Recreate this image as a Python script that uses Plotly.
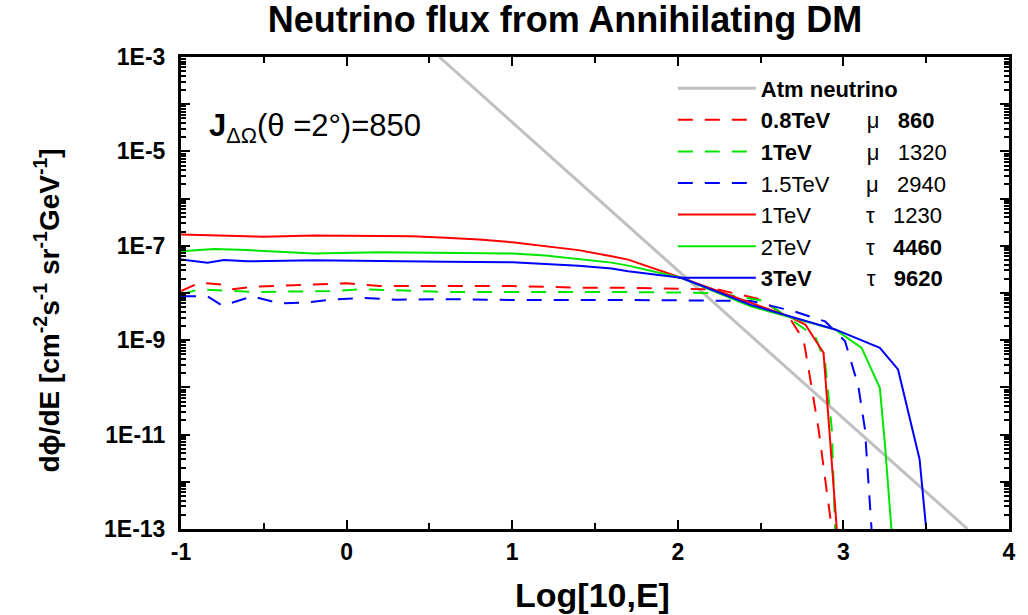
import plotly.graph_objects as go

# ---------------- data (x = log10(E/GeV), y = dPhi/dE) ----------------
atm_x = [0.56, 1.0, 2.0, 3.0, 3.75]
atm_y = [1e-3, 4.2e-5, 3.0e-8, 2.2e-11, 1e-13]

mu08_x = [-1.0, -0.89, -0.75, -0.69, -0.57, 0.0, 0.2, 0.6, 1.0, 1.4, 1.68, 2.24, 2.50, 2.68, 2.76, 2.80, 2.85, 2.93]
mu08_y = [1.1e-8, 1.65e-8, 1.5e-8, 1.2e-8, 1.35e-8, 1.6e-8, 1.4e-8, 1.4e-8, 1.4e-8, 1.3e-8, 1.29e-8, 1.19e-8, 7.3e-9, 2.8e-9, 1.0e-9, 1.5e-10, 1.3e-11, 1e-13]

mu1_x = [-1.0, -0.89, -0.57, -0.1, 0.1, 0.6, 1.0, 1.4, 1.68, 2.24, 2.52, 2.83, 2.89, 2.93, 2.95]
mu1_y = [9.3e-9, 1.2e-8, 1.05e-8, 1.1e-8, 1.2e-8, 1.05e-8, 1.05e-8, 1.05e-8, 1.05e-8, 1.0e-8, 6.8e-9, 1.2e-9, 3.3e-10, 1.3e-11, 1e-13]

mu15_x = [-1.0, -0.84, -0.75, -0.69, -0.57, -0.4, -0.24, -0.1, 0.1, 0.3, 0.6, 1.0, 1.4, 1.7, 2.44, 2.70, 2.89, 3.01, 3.09, 3.13, 3.17]
mu15_y = [8.5e-9, 8.5e-9, 5.4e-9, 6.3e-9, 8.5e-9, 6.0e-9, 6.3e-9, 7.2e-9, 7.9e-9, 7.2e-9, 7.4e-9, 7.1e-9, 7.1e-9, 7.1e-9, 6.8e-9, 4.1e-9, 2.5e-9, 9.5e-10, 1.07e-10, 1.3e-11, 1e-13]

tau1_x = [-1.0, -0.5, -0.2, 0.2, 0.4, 0.6, 0.8, 1.0, 1.2, 1.4, 1.6, 1.7, 2.02, 2.68, 2.77, 2.88, 2.96]
tau1_y = [1.73e-7, 1.55e-7, 1.65e-7, 1.60e-7, 1.60e-7, 1.48e-7, 1.36e-7, 1.19e-7, 9.8e-8, 8.1e-8, 6.0e-8, 5.1e-8, 2.1e-8, 3.1e-9, 2.15e-9, 5.4e-10, 1e-13]

tau2_x = [-1.0, -0.8, -0.6, -0.2, 0.2, 0.6, 1.0, 1.2, 1.4, 1.6, 1.7, 2.02, 2.44, 2.95, 3.11, 3.22, 3.25, 3.29]
tau2_y = [7.7e-8, 8.6e-8, 8.1e-8, 6.9e-8, 7.3e-8, 7.1e-8, 6.9e-8, 6.2e-8, 5.3e-8, 4.4e-8, 3.8e-8, 2.1e-8, 5.2e-9, 1.69e-9, 6.9e-10, 9.8e-11, 6.8e-12, 1e-13]

tau3_x = [-1.0, -0.84, -0.74, -0.6, -0.2, 0.2, 0.6, 1.0, 1.2, 1.4, 1.6, 1.7, 2.02, 2.44, 2.95, 3.22, 3.33, 3.46, 3.50]
tau3_y = [5.1e-8, 4.4e-8, 5.0e-8, 4.7e-8, 4.95e-8, 4.7e-8, 4.6e-8, 4.5e-8, 4.2e-8, 3.8e-8, 3.3e-8, 2.9e-8, 2.1e-8, 5.6e-9, 1.69e-9, 6.9e-10, 2.4e-10, 3.0e-12, 1e-13]

x_tickvals = [-1, 0, 1, 2, 3, 4]
x_ticktext = ["-1", "0", "1", "2", "3", "4"]
y_tickvals = [1e-3, 1e-4, 1e-5, 1e-6, 1e-7, 1e-8, 1e-9, 1e-10, 1e-11, 1e-12, 1e-13]
y_ticktext = ["1E-3", "", "1E-5", "", "1E-7", "", "1E-9", "", "1E-11", "", "1E-13"]

NB = "\u00a0"
names = [
    "<b>Atm neutrino</b>",
    "<b>0.8TeV</b>" + NB * 6 + "μ" + NB * 3 + "<b>860</b>",
    "<b>1TeV</b>" + NB * 9 + "μ" + NB * 3 + "1320",
    "1.5TeV" + NB * 6 + "μ" + NB * 3 + "2940",
    "1TeV" + NB * 9 + "τ" + NB * 3 + "1230",
    "2TeV" + NB * 9 + "τ" + NB * 3 + "<b>4460</b>",
    "<b>3TeV</b>" + NB * 9 + "τ" + NB * 3 + "<b>9620</b>",
]

RED, GREEN, BLUE, GRAY = "#ff0000", "#00e600", "#0000ff", "#c0c0c0"
DASH = "15px,12px"

series = [
    (atm_x, atm_y, GRAY, "solid", 3),
    (mu08_x, mu08_y, RED, DASH, 2),
    (mu1_x, mu1_y, GREEN, DASH, 2),
    (mu15_x, mu15_y, BLUE, DASH, 2),
    (tau1_x, tau1_y, RED, "solid", 2),
    (tau2_x, tau2_y, GREEN, "solid", 2),
    (tau3_x, tau3_y, BLUE, "solid", 2),
]

FONT = "Arial, Liberation Sans, Helvetica, sans-serif"

fig = go.Figure()
for i, ((xs, ys, col, dash, w), nm) in enumerate(zip(series, names)):
    fig.add_trace(go.Scatter(x=xs, y=ys, mode="lines", name=nm,
                             legendgroup=f"g{i}",
                             line=dict(color=col, dash=dash, width=w)))

minor_y = [m * 10.0 ** e for e in range(-13, -3) for m in range(2, 10)]

fig.update_layout(
    width=1028, height=615,
    margin=dict(l=181, r=16, t=57, b=86),
    paper_bgcolor="white", plot_bgcolor="white",
    font=dict(family=FONT, color="black"),
    title=dict(text="<b>Neutrino flux from Annihilating DM</b>",
               x=565 / 1028, xanchor="center", xref="container",
               y=1 - 19 / 615, yanchor="middle", yref="container",
               font=dict(size=36, family=FONT)),
    showlegend=True,
    legend=dict(x=0.594, xanchor="left", y=0.978, yanchor="top",
                bgcolor="rgba(0,0,0,0)", borderwidth=0,
                font=dict(size=22, family=FONT),
                itemwidth=78, traceorder="grouped", tracegroupgap=0),
)

fig.update_xaxes(range=[-1, 4], showgrid=False, zeroline=False,
                 showline=True, linecolor="black", linewidth=3, mirror="ticks",
                 ticks="inside", ticklen=9, tickwidth=2, tickcolor="black",
                 tickmode="array", tickvals=x_tickvals, ticktext=x_ticktext,
                 tickfont=dict(size=23, family=FONT, weight="bold"),
                 ticklabelstandoff=0,
                 minor=dict(ticks="inside", tickvals=[-0.5, 0.5, 1.5, 2.5, 3.5],
                            ticklen=6, tickwidth=2, tickcolor="black"))
fig.update_yaxes(type="log", range=[-13, -3], showgrid=False, zeroline=False,
                 showline=True, linecolor="black", linewidth=3, mirror="ticks",
                 ticks="inside", ticklen=9, tickwidth=2, tickcolor="black",
                 tickmode="array", tickvals=y_tickvals, ticktext=y_ticktext,
                 tickfont=dict(size=23, family=FONT, weight="bold"),
                 ticklabelstandoff=8,
                 minor=dict(ticks="inside", tickvals=minor_y,
                            ticklen=5, tickwidth=1.5, tickcolor="black"))

# axis titles
fig.add_annotation(text="<b>Log[10,E]</b>", xref="paper", yref="paper",
                   x=(594 - 181) / 831, y=-(595 - 529) / 472,
                   xanchor="center", yanchor="middle", showarrow=False,
                   font=dict(size=34, family=FONT))
fig.add_annotation(text="<b>dϕ/dE [cm<sup>-2</sup>s<sup>-1</sup> sr<sup>-1</sup>GeV<sup>-1</sup>]</b>",
                   xref="paper", yref="paper",
                   x=-(181 - 47) / 831, y=(529 - 310) / 472,
                   xanchor="center", yanchor="middle", textangle=-90, showarrow=False,
                   font=dict(size=28, family=FONT))
fig.add_annotation(text="<b>J</b><sub>ΔΩ</sub>(θ =2°)=850", xref="paper", yref="paper",
                   x=(207 - 181) / 831, y=(529 - 128) / 472,
                   xanchor="left", yanchor="middle", showarrow=False,
                   font=dict(size=31, family=FONT))

fig.write_html("out.html")
